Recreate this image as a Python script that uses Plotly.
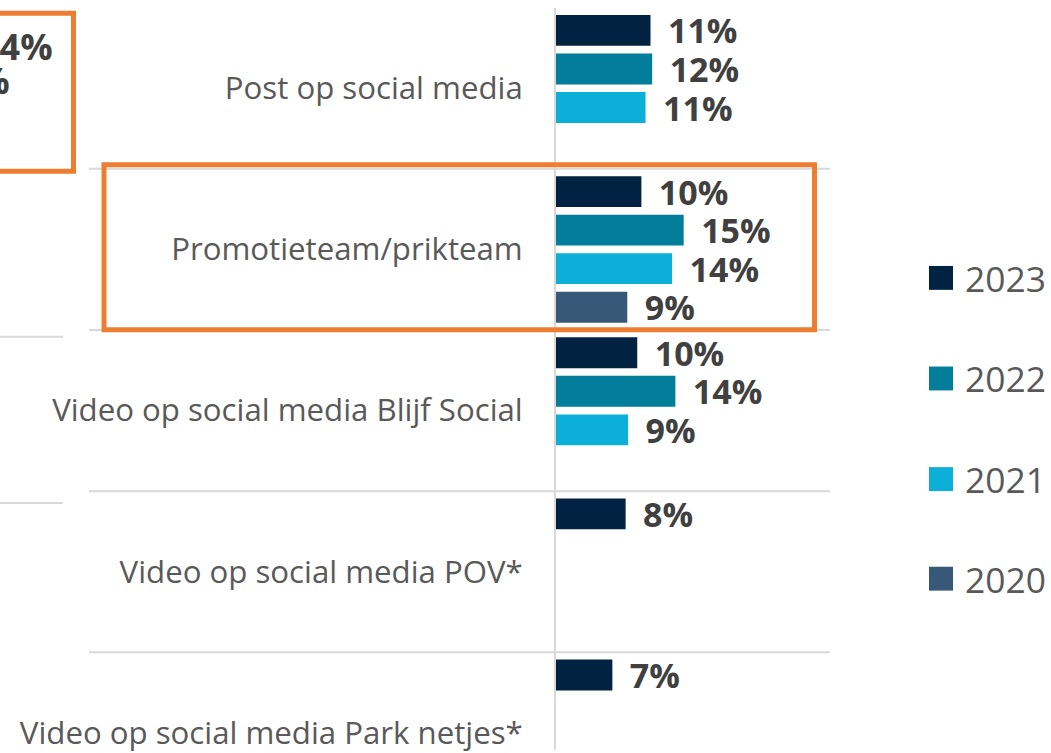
import plotly.graph_objects as go

W, H = 1051, 753

categories = [
    "Post op social media",
    "Promotieteam/prikteam",
    "Video op social media Blijf Social",
    "Video op social media POV*",
    "Video op social media Park netjes*",
]
series_names = ["2023", "2022", "2021", "2020"]
series_colors = ["#012341", "#027D9A", "#0BAFD8", "#385878"]

v2023 = [11.4, 10.3, 9.8, 8.4, 6.8]
v2022 = [11.6, 15.4, 14.4, None, None]
v2021 = [10.8, 14.0, 8.7, None, None]
v2020 = [None, 8.6, None, None, None]
series_values = [v2023, v2022, v2021, v2020]

# partially visible labels of the neighbouring chart (cut off on the left)
left_labels = ["74%", "70%"]

LABEL_COLOR = "#404040"
TEXT_COLOR = "#595959"
GRID_COLOR = "#D9D9D9"
ORANGE = "#ED7D31"
FONT = "Open Sans"


def px_x(x):
    return x / W


def px_y(y):
    return 1 - y / H


fig = go.Figure()
for name, color, vals in zip(series_names, series_colors, series_values):
    fig.add_trace(go.Bar(
        name=name,
        y=categories,
        x=vals,
        orientation="h",
        marker=dict(color=color, line=dict(width=0)),
        texttemplate="\u00a0\u2009%{x:.0f}%",
        textposition="outside",
        textfont=dict(family=FONT, size=34, color=LABEL_COLOR, weight="bold"),
        constraintext="none",
        cliponaxis=False,
        showlegend=False,
    ))

plot_top = 7.7
band = 161.8
y_bottom = -0.5 + (H - plot_top) / band
scale = 8.29
x_max = (830 - 556) / scale

fig.update_layout(
    width=W, height=H,
    margin=dict(l=0, r=0, t=0, b=0),
    paper_bgcolor="white", plot_bgcolor="white",
    barmode="group",
    bargap=0.043,
    bargroupgap=0.2,
    showlegend=False,
    xaxis=dict(domain=[px_x(556), px_x(830)], range=[0, x_max], visible=False),
    yaxis=dict(
        domain=[0, px_y(plot_top)],
        range=[y_bottom, -0.5],
        showline=True, linecolor=GRID_COLOR, linewidth=2,
        showgrid=False, zeroline=False,
        ticks="", ticklabelstandoff=25,
        tickfont=dict(family=FONT, size=31.2, color=TEXT_COLOR),
    ),
)

shapes = []
# category separator lines
for i in range(len(categories) - 1):
    shapes.append(dict(type="line", xref="paper", yref="y",
                       x0=px_x(89), x1=px_x(830), y0=i + 0.5, y1=i + 0.5,
                       line=dict(color=GRID_COLOR, width=2), layer="below"))
# separator lines of the neighbouring chart on the left
for yy in [172, 338, 505]:
    shapes.append(dict(type="line", xref="paper", yref="paper",
                       x0=px_x(-10), x1=px_x(63), y0=px_y(yy), y1=px_y(yy),
                       line=dict(color=GRID_COLOR, width=2), layer="below"))
# orange highlight boxes
shapes.append(dict(type="rect", xref="paper", yref="paper",
                   x0=px_x(-300), x1=px_x(73.5), y0=px_y(172), y1=px_y(13.3),
                   line=dict(color=ORANGE, width=5), fillcolor="rgba(0,0,0,0)"))
shapes.append(dict(type="rect", xref="paper", yref="paper",
                   x0=px_x(104), x1=px_x(814.5), y0=px_y(331), y1=px_y(165.5),
                   line=dict(color=ORANGE, width=5), fillcolor="rgba(0,0,0,0)"))

annotations = []
# custom legend
legend_y = [279, 380, 481, 581]
for name, color, ly in zip(series_names, series_colors, legend_y):
    shapes.append(dict(type="rect", xref="paper", yref="paper",
                       x0=px_x(929), x1=px_x(953), y0=px_y(ly + 12), y1=px_y(ly - 12),
                       line=dict(width=0), fillcolor=color))
    annotations.append(dict(xref="paper", yref="paper", x=px_x(963), y=px_y(ly),
                            xanchor="left", yanchor="middle", showarrow=False,
                            text=name, font=dict(family=FONT, size=35.4, color=TEXT_COLOR)))

# cut-off labels of the neighbouring chart
for txt, rx, cy in zip(left_labels, [55, 12], [47, 81]):
    annotations.append(dict(xref="paper", yref="paper", x=px_x(rx), y=px_y(cy),
                            xanchor="right", yanchor="middle", showarrow=False,
                            text=txt, font=dict(family=FONT, size=36, color=LABEL_COLOR, weight="bold")))

fig.update_layout(shapes=shapes, annotations=annotations)
fig.write_html(
    "out.html",
    config={"displayModeBar": False},
    post_script="document.body.style.margin='0';document.body.style.overflow='hidden';",
)
